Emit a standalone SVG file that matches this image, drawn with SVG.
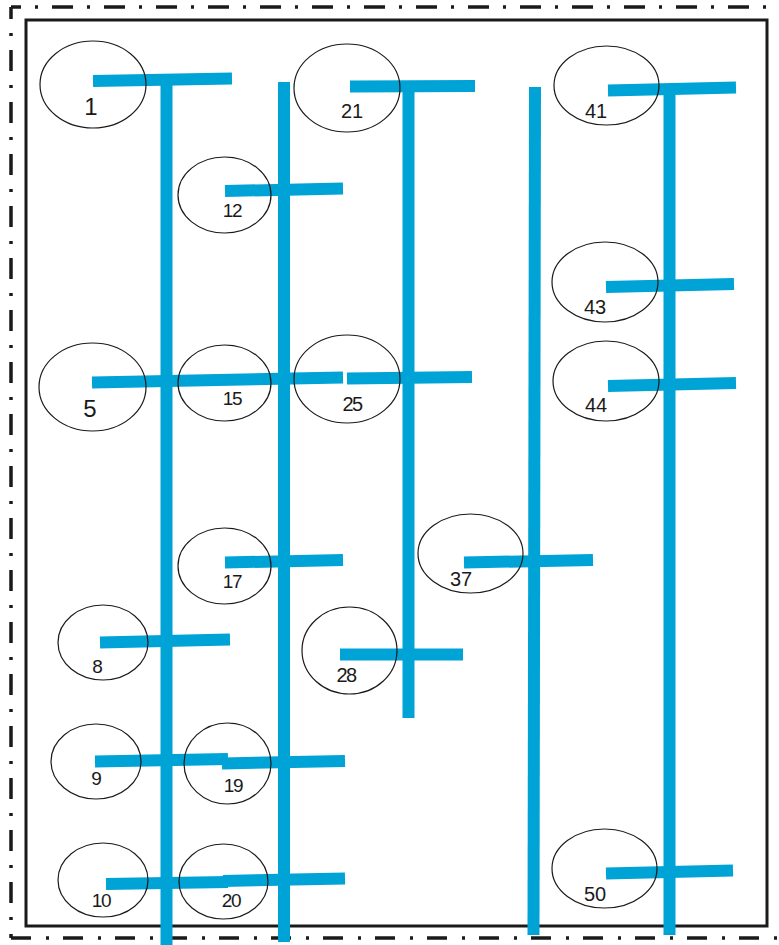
<svg xmlns="http://www.w3.org/2000/svg" width="779" height="945" viewBox="0 0 779 945">
<style>
.frame{fill:none;stroke:#1a1a1a;stroke-width:3.5;stroke-dasharray:21 14 3 14}
.inner{fill:none;stroke:#1a1a1a;stroke-width:3}
.bar{stroke:#00a3d5;stroke-width:12;stroke-linecap:butt}
.node ellipse{fill:none;stroke:#1a1a1a;stroke-width:1.2}
.node text{font-family:"Liberation Sans",Arial,sans-serif;fill:#1a1a1a;text-anchor:middle}
.s{font-size:19px;letter-spacing:-1.2px}
.m{font-size:20px}
.mt{font-size:20px;letter-spacing:-1.5px}
.l{font-size:24px}
</style>
<rect width="779" height="945" fill="#ffffff"/>
<g id="frame">
<line class="frame" x1="11" y1="7" x2="779" y2="7" stroke-dashoffset="11"/>
<line class="frame" x1="11" y1="7" x2="11" y2="938" stroke-dashoffset="9"/>
<line class="frame" x1="11" y1="938" x2="779" y2="938" style="stroke-dasharray:20 15 3 14"/>
<rect class="inner" x="26" y="20" width="741" height="906"/>
</g>
<g id="connectors">
<line class="bar" x1="166.5" y1="84" x2="166.5" y2="945"/>
<line class="bar" x1="284" y1="82" x2="284" y2="942"/>
<line class="bar" x1="408.5" y1="88" x2="408.5" y2="718"/>
<line class="bar" x1="535" y1="87" x2="533.5" y2="935"/>
<line class="bar" x1="669.5" y1="92" x2="669.5" y2="935"/>
<line class="bar" x1="93" y1="81" x2="232" y2="78.5"/>
<line class="bar" x1="225" y1="191" x2="343" y2="188.5"/>
<line class="bar" x1="350" y1="86.5" x2="475" y2="86"/>
<line class="bar" x1="608" y1="90.5" x2="736" y2="87.5"/>
<line class="bar" x1="606" y1="287" x2="734" y2="284"/>
<line class="bar" x1="608" y1="386" x2="736" y2="383"/>
<line class="bar" x1="92" y1="382.5" x2="343" y2="377.5"/>
<line class="bar" x1="347" y1="378.5" x2="472" y2="377"/>
<line class="bar" x1="225" y1="562.5" x2="343" y2="560"/>
<line class="bar" x1="464" y1="562.5" x2="593" y2="560"/>
<line class="bar" x1="100" y1="642.5" x2="230" y2="639.5"/>
<line class="bar" x1="340" y1="654.5" x2="463" y2="654.5"/>
<line class="bar" x1="95" y1="761.5" x2="228" y2="759"/>
<line class="bar" x1="222" y1="763.5" x2="345" y2="761"/>
<line class="bar" x1="106" y1="884" x2="228" y2="882"/>
<line class="bar" x1="223" y1="881" x2="345" y2="878.5"/>
<line class="bar" x1="606" y1="873.5" x2="733" y2="870.5"/>
</g>
<g id="n1" class="node"><ellipse cx="93" cy="84.5" rx="53" ry="43.5"/><text class="l" x="91" y="115">1</text></g>
<g id="n12" class="node"><ellipse cx="224.5" cy="195" rx="46.5" ry="38"/><text class="s" x="232" y="217">12</text></g>
<g id="n21" class="node"><ellipse cx="347" cy="88" rx="53" ry="44"/><text class="m" x="352" y="118">21</text></g>
<g id="n41" class="node"><ellipse cx="606.5" cy="85.5" rx="52.5" ry="39.5"/><text class="m" x="596" y="118">41</text></g>
<g id="n43" class="node"><ellipse cx="605" cy="282" rx="53" ry="40"/><text class="m" x="595" y="314">43</text></g>
<g id="n44" class="node"><ellipse cx="606" cy="381" rx="53" ry="40"/><text class="m" x="596" y="412">44</text></g>
<g id="n5" class="node"><ellipse cx="92.5" cy="387" rx="53.5" ry="44"/><text class="l" x="90" y="417">5</text></g>
<g id="n15" class="node"><ellipse cx="224.5" cy="383" rx="46.5" ry="38"/><text class="s" x="232" y="405">15</text></g>
<g id="n25" class="node"><ellipse cx="347" cy="379" rx="53" ry="44"/><text class="mt" x="352" y="411">25</text></g>
<g id="n17" class="node"><ellipse cx="224.5" cy="566" rx="46.5" ry="38"/><text class="s" x="232" y="588">17</text></g>
<g id="n37" class="node"><ellipse cx="470.5" cy="553.5" rx="52.5" ry="39.5"/><text class="m" x="461" y="586">37</text></g>
<g id="n8" class="node"><ellipse cx="103" cy="642.5" rx="45" ry="37.5"/><text class="s" x="97" y="673">8</text></g>
<g id="n28" class="node"><ellipse cx="349.5" cy="650.5" rx="47.5" ry="43.5"/><text class="mt" x="346" y="682">28</text></g>
<g id="n9" class="node"><ellipse cx="96" cy="761.5" rx="45" ry="37.5"/><text class="s" x="96" y="785">9</text></g>
<g id="n19" class="node"><ellipse cx="227.5" cy="763.5" rx="43.5" ry="40.5"/><text class="s" x="233" y="792">19</text></g>
<g id="n10" class="node"><ellipse cx="103" cy="880" rx="45" ry="37"/><text class="s" x="101" y="907">10</text></g>
<g id="n20" class="node"><ellipse cx="223.5" cy="881.5" rx="44.5" ry="37.5"/><text class="s" x="231" y="907">20</text></g>
<g id="n50" class="node"><ellipse cx="604.5" cy="868.5" rx="52.5" ry="39.5"/><text class="m" x="595" y="901">50</text></g>
</svg>
